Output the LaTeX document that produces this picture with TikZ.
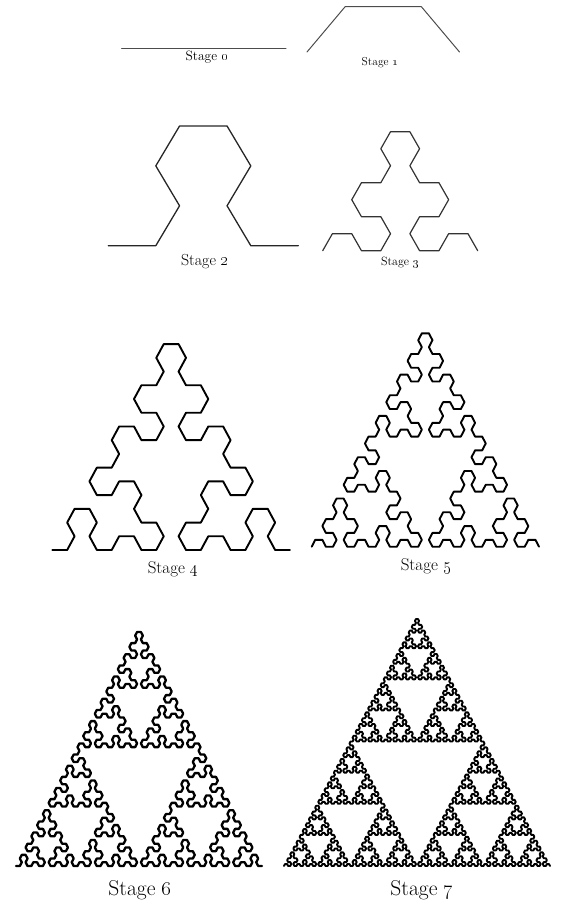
\documentclass[tikz,border=0pt]{standalone}
\usetikzlibrary{lindenmayersystems}

% arrowhead curve: X and Y both draw a step
\pgfdeclarelindenmayersystem{arrowhead}{
  \symbol{X}{\pgflsystemdrawforward}
  \symbol{Y}{\pgflsystemdrawforward}
  \rule{X -> Y-X-Y}
  \rule{Y -> X+Y+X}
}

\tikzset{
  curve/.style={line join=round, line cap=round},
  stagelabel/.style={inner sep=0pt, font=\fontsize{#1}{#1}\selectfont}
}

\begin{document}
\begin{tikzpicture}[x=1pt, y=-1pt]
  \useasboundingbox (0,0) rectangle (563,904);

  % Stage 0 and 1
  \begin{scope}[shift={(121.7,48.3)}]
    \draw[curve, black!70, line width=1pt]
      [l-system={arrowhead, axiom=X, order=0, step=164.3pt, angle=60}] lindenmayer system;
  \end{scope}
  \begin{scope}[shift={(307,52)}, yscale=0.686]
    \draw[curve, black!70, line width=1pt]
      [l-system={arrowhead, axiom=+X, order=1, step=76.25pt, angle=60}] lindenmayer system;
  \end{scope}
  \node[stagelabel=13.5] (label0) at (207,57) {Stage \oldstylenums{0}};
  \node[stagelabel=11.5] (label1) at (380,63) {Stage \oldstylenums{1}};

  % Stage 2 and 3
  \begin{scope}[shift={(108.3,245.7)}, yscale=0.97]
    \draw[curve, black!85, line width=1.3pt]
      [l-system={arrowhead, axiom=X, order=2, step=47.5pt, angle=60}] lindenmayer system;
  \end{scope}
  \begin{scope}[shift={(322.7,250.7)}, yscale=1.013]
    \draw[curve, black!80, line width=1.2pt]
      [l-system={arrowhead, axiom=+X, order=3, step=19.375pt, angle=60}] lindenmayer system;
  \end{scope}
  \node[stagelabel=16] (label2) at (205,262) {Stage \oldstylenums{2}};
  \node[stagelabel=12] (label3) at (400,263) {Stage \oldstylenums{3}};

  % Stage 4 and 5
  \begin{scope}[shift={(52.3,550)}, yscale=1.067]
    \draw[curve, line width=1.9pt]
      [l-system={arrowhead, axiom=X, order=4, step=14.856pt, angle=60}] lindenmayer system;
  \end{scope}
  \begin{scope}[shift={(311.7,546.7)}, yscale=1.119]
    \draw[curve, line width=1.9pt]
      [l-system={arrowhead, axiom=+X, order=5, step=7.103pt, angle=60}] lindenmayer system;
  \end{scope}
  \node[stagelabel=17] (label4) at (173,569) {Stage \oldstylenums{4}};
  \node[stagelabel=17] (label5) at (426,566) {Stage \oldstylenums{5}};

  % Stage 6 and 7
  \begin{scope}[shift={(16,866)}, yscale=1.116]
    \draw[curve, line width=2.3pt]
      [l-system={arrowhead, axiom=X, order=6, step=3.844pt, angle=60}] lindenmayer system;
  \end{scope}
  \begin{scope}[shift={(284,866)}, yscale=1.081]
    \draw[curve, line width=1.9pt]
      [l-system={arrowhead, axiom=+X, order=7, step=2.078pt, angle=60}] lindenmayer system;
  \end{scope}
  \node[stagelabel=21.5] (label6) at (140,890) {Stage \oldstylenums{6}};
  \node[stagelabel=21.5] (label7) at (422,890) {Stage \oldstylenums{7}};
\end{tikzpicture}
\end{document}
